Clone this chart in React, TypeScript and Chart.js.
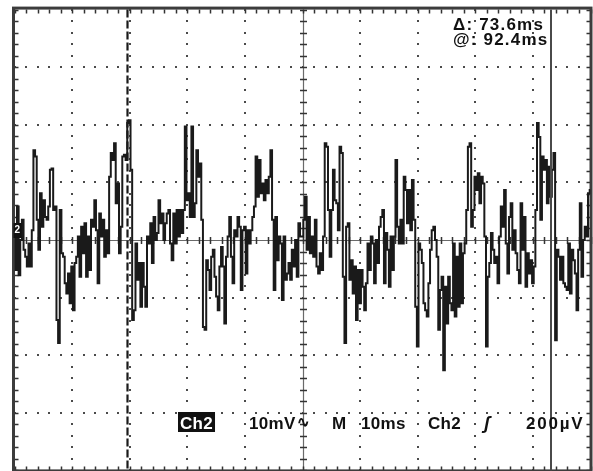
import React, { useEffect, useRef } from "react";
import { Chart, registerables } from "chart.js";

Chart.register(...registerables);

// Oscilloscope settings
const TIME_RANGE_MS = 100; // 10 divisions x 10 ms
const VOLT_RANGE_MV = 40; // 4 divisions x 10 mV each side of zero
const DIV_MS = 10;
const DIV_MV = 10;
const MINOR_MS = 2;
const MINOR_MV = 2;

// Cursor positions (ms)
const CURSOR_A_MS = 19.6;
const CURSOR_B_MS = 93.2;

// Readouts
const READOUT_DELTA = "Δ: 73.6ms";
const READOUT_AT = "@: 92.4ms";
const STATUS_CH = "Ch2";
const STATUS_SCALE = "10mV";
const STATUS_BW = "∿";
const STATUS_M = "M";
const STATUS_TIME = "10ms";
const STATUS_TRIG_CH = "Ch2";
const STATUS_TRIG_SLOPE = "ʃ";
const STATUS_TRIG_LEVEL = "200µV";

const trace1 = [2.3, -5.2, 5.8, -6.1, 0, 3.5, -1.7, -2.9, -4.6, -0.6, -4.6, 1.7, 15.6, 14.5, 3.5, -1.7, 8.1, 2.3, 6.9, 4.0, 3.5, 5.8, 12.2, 12.4, 5.2, 5.8, -13.9, -17.9, 5.2, -2.3, -2.9, -7.5, -9.3, -5.8, -11.0, -4.6, -12.2, -4.0, -2.9, 0.6, -6.4, 2.3, -2.3, 2.9, -6.4, 0.6, -5.2, 3.5, 2.3, 6.9, 1.7, -7.5, 4.6, 0.6, 3.5, -2.9, 1.7, -2.3, 11.0, 15.1];
const trace2 = [13.9, 16.8, 6.4, 9.8, -2.3, 2.3, 14.5, 14.8, 13.9, 20.3, 20.8, 12.2, -13.9, -12.2, -0.6, -6.9, -4.0, -11.6, -4.0, -8.1, -11.6, 0.6, -0.6, 2.9, -4.0, 4.0, 0, 1.2, 6.9, 2.9, 4.6, 0, 2.9, 4.6, 5.2, -0.6, -3.5, 4.6, -0.6, 5.2, 0.6, 5.2, 1.2, 5.2, 19.7, 6.9, 8.1, 4.0, 19.7, 4.0, 6.4, 15.6, 11.0, 13.3, 3.5, -15.1, -15.6, -3.5, -5.2, -8.7];
const trace3 = [-2.9, -1.7, -6.4, -9.8, -12.2, -4.6, -1.2, -4.6, -14.5, -2.9, 0.6, 4.0, -2.9, -7.5, 1.7, 0.6, 4.0, 2.3, -8.7, 1.7, 2.3, -5.8, 1.7, -0.6, 1.7, 4.0, 5.8, 14.5, 7.5, 13.9, 8.1, 9.8, 6.9, 10.4, 8.1, 11.0, 15.6, 3.5, -8.7, 4.0, -3.5, 0.6, -0.6, -10.4, 0.6, -6.9, -5.8, -4.0, -6.9, -1.7, -4.6, 0, -6.4, 2.9, 0.6];
const trace4 = [0.6, 3.5, 7.5, -1.7, 4.0, -2.3, 0.6, -2.9, 3.5, -4.6, -5.8, -2.3, -5.2, 0.6, 16.8, 16.2, 5.2, -2.9, 5.2, 12.2, 6.9, 6.4, 1.7, 16.2, 15.1, -6.4, -17.9, 2.3, 2.9, -6.9, -3.5, -9.3, -4.6, -13.9, -5.2, -11.0, -5.2, -8.1, -12.2, -7.5, -0.6, -5.2, 0.6, -0.6, -7.5, 0, -4.0, 2.3, 4.0, 5.2, -7.5, 1.2, -1.7, -8.1, 0.6, -5.2, 0.6, 13.9, 2.3];
const trace5 = [-0.6, 3.5, -0.6, 11.0, 8.7, 2.9, 8.7, 1.7, 10.4, 3.5, -11.6, -18.5, -0.6, -1.7, -4.0, -11.0, -12.2, -13.3, -7.5, -1.7, 1.7, 2.3, 0, -2.9, -15.6, -8.7, -6.4, -22.6, -8.1, -14.5, -6.4, -11.0, -12.2, -0.6, -13.3, -2.9, -11.6, -0.6, -11.0, -2.3, -0.6, 5.2, 16.2, 16.8, 2.3, 5.2, 11.0, 8.7, 11.6, 6.4, 11.0, 9.8, 0.6, -18.5, -6.4];
const trace6 = [-4.0, 1.2, -1.7, -4.0, -2.9, -7.5, 0.6, 5.8, 2.3, 8.7, -0.6, -5.8, 4.0, 6.4, -1.7, 1.7, -2.3, -5.2, -7.5, 6.4, -1.7, 4.0, -8.1, -2.3, -5.8, -3.5, -7.5, -4.6, 5.2, 20.3, 17.9, 3.5, 14.5, 12.2, 13.9, 6.4, 12.7, 7.5, 12.2, 15.1, -17.4, -1.7, -2.9, -6.9, -2.9, -7.5, -8.1, -8.7, -0.6, -9.3, -1.7, -3.5, -5.8, -12.2, -1.7, 6.4, -6.4, 0, 2.3, 0.6, 8.1, 8.7];

const traceMv = [...trace1, ...trace2, ...trace3, ...trace4, ...trace5, ...trace6];

const FONT = '"Liberation Sans", Arial, sans-serif';
const INK = "#111";

function range(from: number, to: number, step: number) {
  const out: number[] = [];
  for (let v = from; v <= to + 1e-9; v += step) out.push(Math.round(v * 1000) / 1000);
  return out;
}

const graticulePlugin = {
  id: "graticule",
  beforeDatasetsDraw(chart: any) {
    const { ctx, chartArea: a, scales } = chart;
    const xs = scales.x;
    const ys = scales.y;
    ctx.save();
    ctx.fillStyle = "#4a4a4a";
    const minorT = range(0, TIME_RANGE_MS, MINOR_MS);
    const minorV = range(-VOLT_RANGE_MV, VOLT_RANGE_MV, MINOR_MV);
    for (const t of range(DIV_MS, TIME_RANGE_MS - DIV_MS, DIV_MS)) {
      if (t === TIME_RANGE_MS / 2) continue;
      const px = Math.round(xs.getPixelForValue(t));
      for (const v of minorV) {
        const py = Math.round(ys.getPixelForValue(v));
        ctx.fillRect(px - 1, py - 1, 2, 2);
      }
    }
    for (const v of range(-VOLT_RANGE_MV + DIV_MV, VOLT_RANGE_MV - DIV_MV, DIV_MV)) {
      if (v === 0) continue;
      const py = Math.round(ys.getPixelForValue(v));
      for (const t of minorT) {
        const px = Math.round(xs.getPixelForValue(t));
        ctx.fillRect(px - 1, py - 1, 2, 2);
      }
    }
    const cx = Math.round(xs.getPixelForValue(TIME_RANGE_MS / 2)) + 0.5;
    const cy = Math.round(ys.getPixelForValue(0)) + 0.5;
    ctx.strokeStyle = "#6a6a6a";
    ctx.lineWidth = 1.2;
    ctx.beginPath();
    ctx.moveTo(a.left, cy);
    ctx.lineTo(a.right, cy);
    ctx.moveTo(cx, a.top);
    ctx.lineTo(cx, a.bottom);
    ctx.stroke();
    ctx.strokeStyle = "#333";
    ctx.lineWidth = 1.5;
    ctx.beginPath();
    for (const t of minorT) {
      const px = Math.round(xs.getPixelForValue(t)) + 0.5;
      ctx.moveTo(px, cy - 3.5);
      ctx.lineTo(px, cy + 3.5);
      ctx.moveTo(px, a.top);
      ctx.lineTo(px, a.top + 4);
      ctx.moveTo(px, a.bottom);
      ctx.lineTo(px, a.bottom - 4);
    }
    for (const v of minorV) {
      const py = Math.round(ys.getPixelForValue(v)) + 0.5;
      ctx.moveTo(cx - 3.5, py);
      ctx.lineTo(cx + 3.5, py);
      ctx.moveTo(a.left, py);
      ctx.lineTo(a.left + 4, py);
      ctx.moveTo(a.right, py);
      ctx.lineTo(a.right - 4, py);
    }
    ctx.stroke();
    ctx.strokeStyle = "#3c3c3c";
    ctx.lineWidth = 3;
    ctx.strokeRect(a.left - 1, a.top - 1.5, a.right - a.left + 1.5, a.bottom - a.top + 2);
    ctx.restore();
  },
  afterDatasetsDraw(chart: any) {
    const { ctx, chartArea: a, scales } = chart;
    const xs = scales.x;
    const ys = scales.y;
    ctx.save();
    const ax = Math.round(xs.getPixelForValue(CURSOR_A_MS)) + 0.5;
    ctx.strokeStyle = "#1a1a1a";
    ctx.lineWidth = 2.2;
    ctx.setLineDash([8, 3]);
    ctx.beginPath();
    ctx.moveTo(ax, a.top);
    ctx.lineTo(ax, a.bottom);
    ctx.stroke();
    const bx = Math.round(xs.getPixelForValue(CURSOR_B_MS));
    ctx.setLineDash([]);
    ctx.strokeStyle = "#4a4a4a";
    ctx.lineWidth = 2;
    ctx.beginPath();
    ctx.moveTo(bx, a.top);
    ctx.lineTo(bx, a.bottom);
    ctx.stroke();

    const gy = ys.getPixelForValue(0);
    ctx.fillStyle = "#111";
    ctx.fillRect(a.left - 1, gy - 17, 8, 15);
    ctx.fillStyle = "#fff";
    ctx.font = `bold 10px ${FONT}`;
    ctx.textBaseline = "middle";
    ctx.textAlign = "left";
    ctx.fillText("2", a.left, gy - 9.5);

    ctx.fillStyle = INK;
    ctx.textBaseline = "alphabetic";
    ctx.font = `bold 17px ${FONT}`;
    (ctx as any).letterSpacing = "1.2px";
    ctx.fillText(READOUT_DELTA, 453, 30);
    ctx.fillText(READOUT_AT, 453, 45);

    const base = 429;
    (ctx as any).letterSpacing = "0.3px";
    ctx.font = `bold 17px ${FONT}`;
    const chW = ctx.measureText(STATUS_CH).width;
    ctx.fillStyle = "#111";
    ctx.fillRect(178, 412, chW + 4, 20);
    ctx.fillStyle = "#fff";
    ctx.fillText(STATUS_CH, 180, base);
    ctx.fillStyle = INK;
    ctx.fillText(STATUS_SCALE, 249, base);
    ctx.font = `bold 15px ${FONT}`;
    ctx.fillText(STATUS_BW, 297, base - 2);
    ctx.font = `bold 17px ${FONT}`;
    ctx.fillText(STATUS_M, 332, base);
    ctx.fillText(STATUS_TIME, 361, base);
    ctx.fillText(STATUS_TRIG_CH, 428, base);
    ctx.font = `bold italic 18px ${FONT}`;
    ctx.fillText(STATUS_TRIG_SLOPE, 484, base);
    ctx.font = `bold 17px ${FONT}`;
    (ctx as any).letterSpacing = "1.8px";
    ctx.fillText(STATUS_TRIG_LEVEL, 526, base);
    ctx.restore();
  },
};

export default function App() {
  const canvasRef = useRef<HTMLCanvasElement | null>(null);

  useEffect(() => {
    const canvas = canvasRef.current;
    if (!canvas) return;
    const n = traceMv.length;
    const points = traceMv.map((v, i) => ({ x: (i * TIME_RANGE_MS) / (n - 1), y: v }));
    const chart = new Chart(canvas, {
      type: "line",
      data: {
        datasets: [
          {
            label: "Ch2",
            data: points,
            borderColor: "#1a1a1a",
            borderWidth: 2,
            pointRadius: 0,
            stepped: "middle",
            fill: false,
          },
        ],
      },
      options: {
        responsive: false,
        animation: false,
        devicePixelRatio: 1,
        layout: { padding: { left: 14.5, top: 9.6, right: 2.5, bottom: 0.6 } },
        plugins: { legend: { display: false }, tooltip: { enabled: false } },
        scales: {
          x: { type: "linear", min: 0, max: TIME_RANGE_MS, display: false },
          y: { type: "linear", min: -VOLT_RANGE_MV, max: VOLT_RANGE_MV, display: false },
        },
      },
      plugins: [graticulePlugin],
    });
    return () => chart.destroy();
  }, []);

  return (
    <div style={{ position: "fixed", left: 0, top: 0, width: 593, height: 471, background: "#fff" }}>
      <canvas ref={canvasRef} width={593} height={471} />
    </div>
  );
}
